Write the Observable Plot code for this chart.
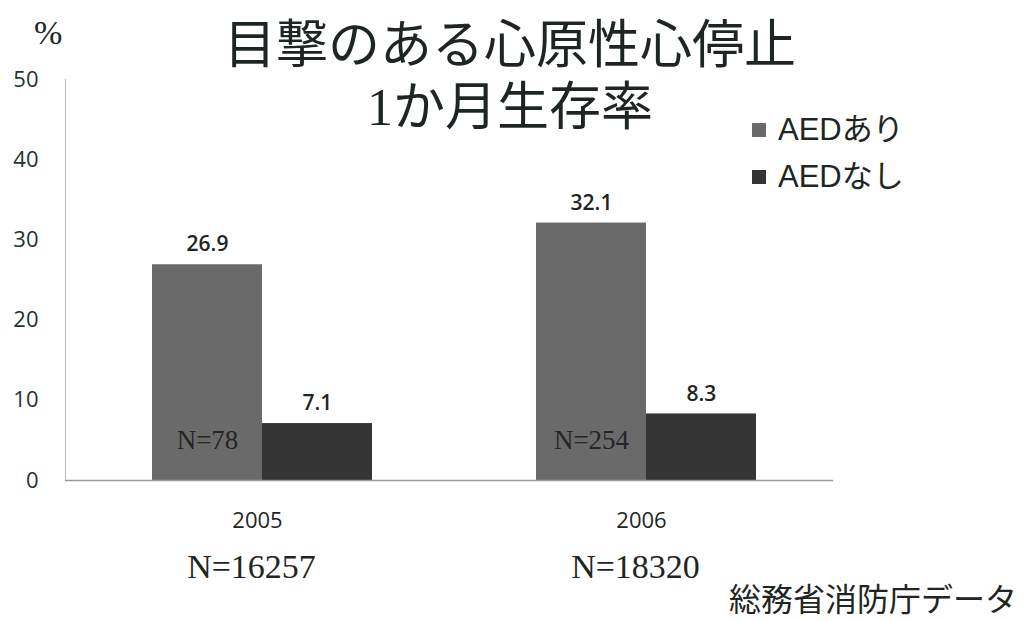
<!DOCTYPE html>
<html><head><meta charset="utf-8">
<script src="https://cdn.jsdelivr.net/npm/d3@7"></script>
<script src="https://cdn.jsdelivr.net/npm/@observablehq/plot@0.6"></script>
<style>
body{margin:0;background:#fff;width:1036px;height:621px;overflow:hidden;position:relative;}
#chart{position:absolute;left:0;top:0;}
.t{position:absolute;white-space:nowrap;color:#1e2624;}
#chart g[aria-label="y-axis tick label"], #chart g[aria-label="fx-axis tick label"]{font-size:22px !important;font-family:'Open Sans' !important;}
#chart g[aria-label="y-axis tick label"] text{fill:#253330;}
#chart g[aria-label="fx-axis tick label"] text{fill:#1e2624;}
</style></head><body>
<div id="chart"></div>
<div class="t" style="left:0;width:1020px;top:10px;text-align:center;font:52px 'Noto Sans CJK JP';line-height:62px;">目撃のある心原性心停止<br><span style="font-family:'Liberation Serif'">1</span>か月生存率</div>
<div class="t" style="left:34px;top:14px;font:34px 'Liberation Serif';">%</div>
<div id="legend"></div>
<div class="t" style="left:729px;top:578px;font:32px 'Noto Sans CJK JP';line-height:38px;">総務省消防庁データ</div>
<script>
const years = ["2005", "2006"];
const series = ["AEDあり", "AEDなし"];
const aedYes = [26.9, 32.1];
const aedNo = [7.1, 8.3];
const totalN = ["N=16257", "N=18320"];
const aedN = ["N=78", "N=254"];
const yTicks = [0, 10, 20, 30, 40, 50];
const colors = ["#6a6a6a", "#353535"];

const data = [];
years.forEach((y, i) => {
  data.push({year: y, series: series[0], value: aedYes[i]});
  data.push({year: y, series: series[1], value: aedNo[i]});
});
const nInner = years.map((y, i) => ({year: y, series: series[0], text: aedN[i]}));
const nTotal = years.map((y, i) => ({year: y, text: totalN[i]}));

const plot = Plot.plot({
  width: 1036,
  height: 621,
  marginLeft: 65,
  marginRight: 203,
  marginTop: 79,
  marginBottom: 141,
  style: {background: "transparent", fontFamily: "'Open Sans'"},
  fx: {domain: years, padding: 0, label: null},
  x: {domain: series, paddingInner: 0, paddingOuter: 0.73, align: 0.53, axis: null},
  y: {domain: [0, 50], axis: null},
  color: {domain: series, range: colors},
  marks: [
    Plot.frame({anchor: "left", stroke: "#b8b8b8", fx: ["2005"]}),
    Plot.axisY({ticks: yTicks, tickSize: 0, tickPadding: 27, fontSize: 22, label: null, fx: ["2005"]}),
    Plot.axisFx({anchor: "bottom", tickSize: 0, tickPadding: 32, fontSize: 22, label: null}),
    Plot.barY(data, {fx: "year", x: "series", y: "value", fill: "series"}),
    Plot.ruleY([0], {stroke: "#9a9a9a", strokeWidth: 1.5}),
    Plot.text(data, {fx: "year", x: "series", y: "value", text: d => d.value.toFixed(1), dy: -20, fontSize: 21, fontWeight: 600, fill: "#1e2624"}),
    Plot.text(nInner, {fx: "year", x: "series", y: () => 0, text: "text", dy: -40, fontSize: 27, fontFamily: "'Liberation Serif'", fill: "#252525"}),
    Plot.text(nTotal, {fx: "year", text: "text", frameAnchor: "bottom", dy: 97, dx: -6, fontSize: 34, fontFamily: "'Liberation Serif'", fill: "#1e2624"})
  ]
});
document.getElementById("chart").appendChild(plot);

const legend = document.getElementById("legend");
series.forEach((s, i) => {
  const row = document.createElement("div");
  row.className = "t";
  row.style.cssText = `left:752px;top:${110 + i * 47}px;font:31px 'Liberation Sans','Noto Sans CJK JP';line-height:40px;display:flex;align-items:center;`;
  row.innerHTML = `<span style="display:inline-block;width:14px;height:14px;background:${colors[i]};margin-right:12px;"></span>${s}`;
  legend.appendChild(row);
});
</script>
</body></html>
